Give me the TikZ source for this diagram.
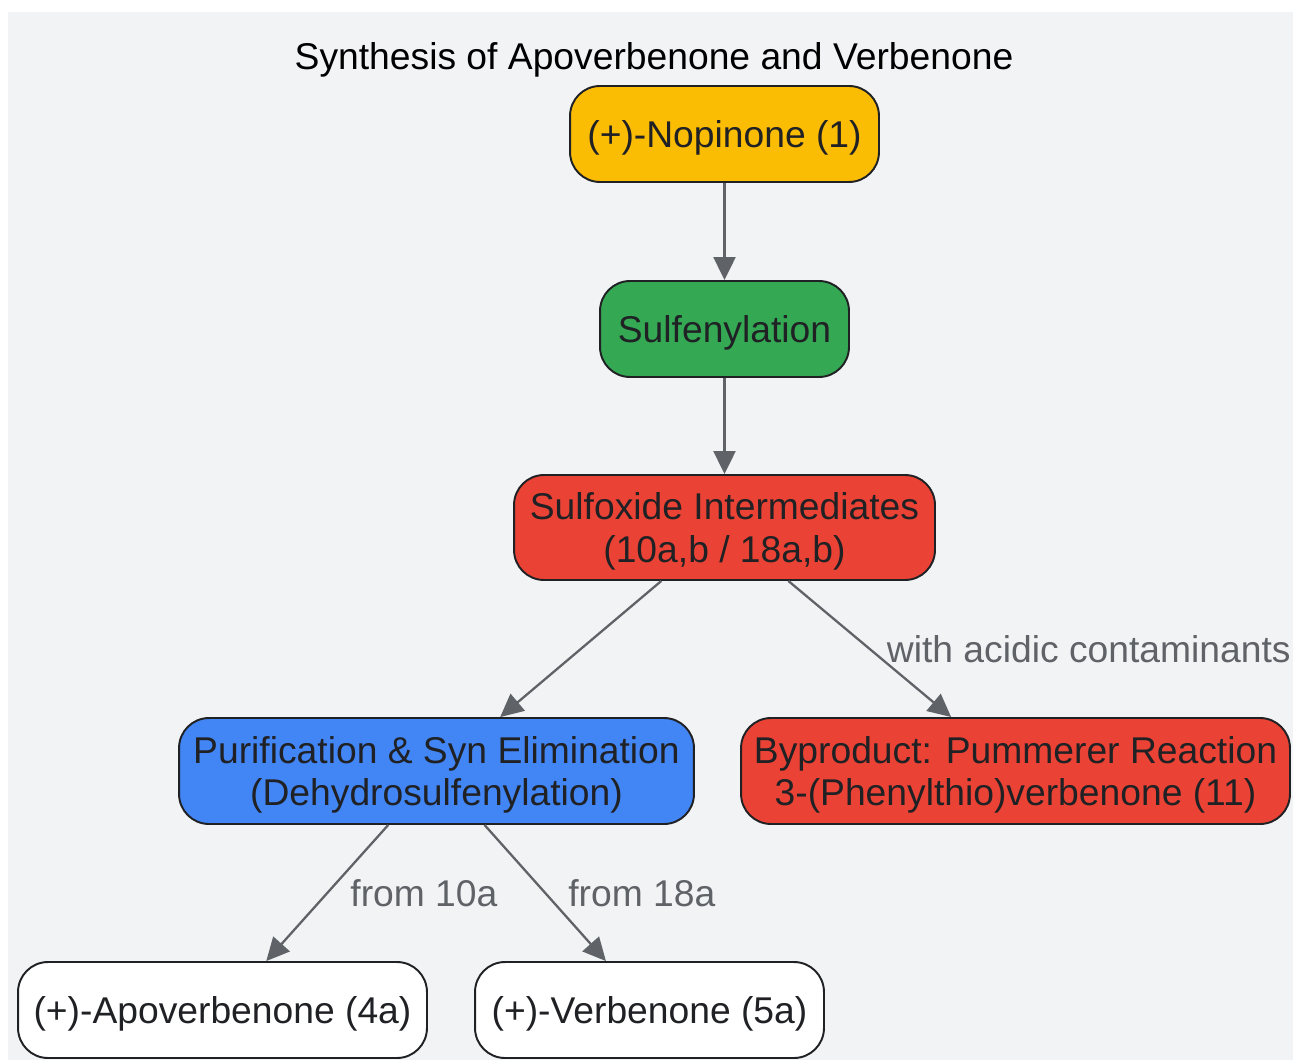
\documentclass[tikz,border=0pt]{standalone}
\usepackage{fontspec}
\setmainfont{Liberation Sans}
\usetikzlibrary{arrows.meta}
\definecolor{bgray}{HTML}{F1F3F4}
\definecolor{ink}{HTML}{202124}
\definecolor{edgegray}{HTML}{5F6368}
\definecolor{gyellow}{HTML}{FBBC04}
\definecolor{ggreen}{HTML}{34A853}
\definecolor{gred}{HTML}{EA4335}
\definecolor{gblue}{HTML}{4285F4}
\tikzset{
  box/.style={draw=ink, line width=1.1pt, rounded corners=0.6cm, text=ink,
    align=center, inner sep=0pt, minimum height=1.92cm, text depth=0pt},
  flow/.style={edgegray, line width=1.3pt, -{Triangle[length=0.46cm, width=0.44cm]}},
  lbl/.style={text=edgegray, anchor=west, inner sep=0pt, xshift=0.44cm}
}
\begin{document}
\begin{tikzpicture}[x=0.02cm, y=-0.02cm, font=\fontsize{21.2}{24}\selectfont]
\useasboundingbox (0,0) rectangle (1293,1060);
\fill[bgray] (8,12) rectangle (1293,1060);
\node (title) at (654,60) {Synthesis of Apoverbenone and Verbenone};
% nodes
\node[box, fill=gyellow, minimum width=6.18cm] (nop) at (724.5,134) {(+)-Nopinone (1)};
\node[box, fill=ggreen, minimum width=4.98cm] (sulf) at (724.5,329) {Sulfenylation};
\node[box, fill=gred, minimum width=8.42cm, minimum height=2.1cm] (sox) at (724.5,527.5) {Sulfoxide Intermediates\\(10a,b / 18a,b)};
\node[box, fill=gblue, minimum width=10.3cm, minimum height=2.12cm] (pur) at (436.5,771) {Purification \& Syn Elimination\\(Dehydrosulfenylation)};
\node[box, fill=gred, minimum width=10.98cm, minimum height=2.12cm] (byp) at (1015.5,771) {Byproduct: Pummerer Reaction\\3-(Phenylthio)verbenone (11)};
\node[box, fill=white, minimum width=8.18cm] (apo) at (222.5,1010) {(+)-Apoverbenone (4a)};
\node[box, fill=white, minimum width=6.98cm] (verb) at (649.5,1010) {(+)-Verbenone (5a)};
% connectors
\draw[flow] (nop) -- (sulf);
\draw[flow] (sulf) -- (sox);
\draw[flow] (sox) -- (pur);
\draw[flow] (sox) -- (byp) node[lbl, midway, xshift=-0.12cm] {with acidic contaminants};
\draw[flow] (pur) -- (apo) node[lbl, midway] {from 10a};
\draw[flow] (pur) -- (verb) node[lbl, midway] {from 18a};
\end{tikzpicture}
\end{document}
